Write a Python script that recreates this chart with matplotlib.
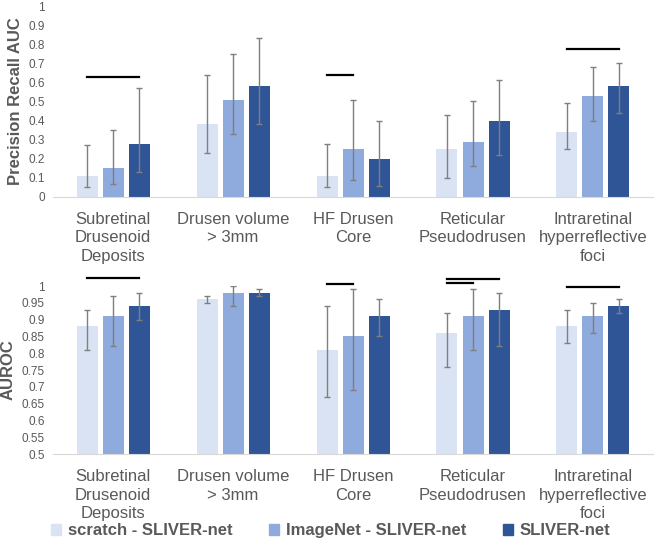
import numpy as np
import matplotlib
matplotlib.use('Agg')
import matplotlib.pyplot as plt
from matplotlib.patches import Patch

plt.rcParams['font.family'] = ['Liberation Sans', 'DejaVu Sans']

categories = ['Subretinal\nDrusenoid\nDeposits', 'Drusen volume\n> 3mm', 'HF Drusen\nCore',
              'Reticular\nPseudodrusen', 'Intraretinal\nhyperreflective\nfoci']
models = ['scratch - SLIVER-net', 'ImageNet - SLIVER-net', 'SLIVER-net']
colors = ['#dae3f3', '#8faadc', '#2f5597']

# precision recall AUC: value, lower CI, upper CI
pr_val = [[0.11, 0.38, 0.11, 0.25, 0.34],
          [0.15, 0.51, 0.25, 0.29, 0.53],
          [0.28, 0.58, 0.20, 0.40, 0.58]]
pr_lo = [[0.05, 0.23, 0.05, 0.10, 0.25],
         [0.07, 0.33, 0.09, 0.16, 0.40],
         [0.13, 0.38, 0.06, 0.22, 0.44]]
pr_hi = [[0.27, 0.64, 0.28, 0.43, 0.49],
         [0.35, 0.75, 0.51, 0.50, 0.68],
         [0.57, 0.83, 0.40, 0.61, 0.70]]

# AUROC: value, lower CI, upper CI
roc_val = [[0.88, 0.96, 0.81, 0.86, 0.88],
           [0.91, 0.98, 0.85, 0.91, 0.91],
           [0.94, 0.98, 0.91, 0.93, 0.94]]
roc_lo = [[0.81, 0.95, 0.67, 0.76, 0.83],
          [0.82, 0.94, 0.69, 0.81, 0.86],
          [0.90, 0.97, 0.85, 0.82, 0.92]]
roc_hi = [[0.93, 0.97, 0.94, 0.92, 0.93],
          [0.97, 1.00, 0.99, 0.99, 0.95],
          [0.98, 0.99, 0.96, 0.98, 0.96]]

# significance bars: (category, first model, second model, height)
pr_sig = [(0, 0, 2, 0.627), (2, 0, 1, 0.64), (4, 0, 2, 0.775)]
roc_sig = [(0, 0, 2, 1.024), (2, 0, 1, 1.006), (3, 0, 2, 1.02), (3, 0, 1, 1.008), (4, 0, 2, 0.998)]

grey = '#595959'
bw = 0.175
step = 0.2167
x = np.arange(len(categories))

fig = plt.figure(figsize=(6.57, 5.41), dpi=100)
ax1 = fig.add_axes([0.0807, 0.6359, 0.9132, 0.353])
ax2 = fig.add_axes([0.0807, 0.1608, 0.9132, 0.3105])


def draw(ax, vals, lo, hi, sig):
    for i in range(3):
        v = np.array(vals[i])
        err = [v - np.array(lo[i]), np.array(hi[i]) - v]
        ax.bar(x + (i - 1) * step, v, bw, color=colors[i], zorder=2)
        ax.errorbar(x + (i - 1) * step, v, yerr=err, fmt='none', ecolor='#7f7f7f',
                    elinewidth=1, capsize=2.5, capthick=1, zorder=3)
    for c, a, b, h in sig:
        ax.plot([c + (a - 1) * step, c + (b - 1) * step], [h, h], color='black',
                lw=1.6, clip_on=False, zorder=4)
    ax.set_xlim(-0.5, len(categories) - 0.5)
    ax.set_xticks(x)
    ax.set_xticklabels(categories, fontsize=12, color=grey, linespacing=1.27)
    ax.tick_params(axis='x', length=0, pad=11)
    ax.tick_params(axis='y', length=0, labelsize=8.5, labelcolor=grey, pad=6)
    for s in ['top', 'right', 'left']:
        ax.spines[s].set_visible(False)
    ax.spines['bottom'].set_color('#d9d9d9')


draw(ax1, pr_val, pr_lo, pr_hi, pr_sig)
ax1.set_ylim(0, 1)
ax1.set_yticks(np.arange(0, 1.01, 0.1))
ax1.set_yticklabels(['0'] + ['%g' % t for t in np.arange(0.1, 0.95, 0.1)] + ['1'])
ax1.set_ylabel('Precision Recall AUC', fontsize=12, fontweight='bold', color=grey, labelpad=4)

draw(ax2, roc_val, roc_lo, roc_hi, roc_sig)
ax2.set_ylim(0.5, 1)
ticks = np.arange(0.5, 1.001, 0.05)
ax2.set_yticks(ticks)
ax2.set_yticklabels(['%g' % round(t, 2) for t in ticks])
ax2.set_ylabel('AUROC', fontsize=12, fontweight='bold', color=grey, labelpad=4)

handles = [Patch(color=colors[i]) for i in range(3)]
leg = fig.legend(handles, models, loc='center', bbox_to_anchor=(0.503, 0.019), ncol=3,
                 frameon=False, handlelength=0.6, handleheight=0.6, handletextpad=0.4,
                 columnspacing=2.2, borderpad=0, prop={'weight': 'bold', 'size': 12})
for t in leg.get_texts():
    t.set_color(grey)

fig.savefig('out.png', dpi=100)
